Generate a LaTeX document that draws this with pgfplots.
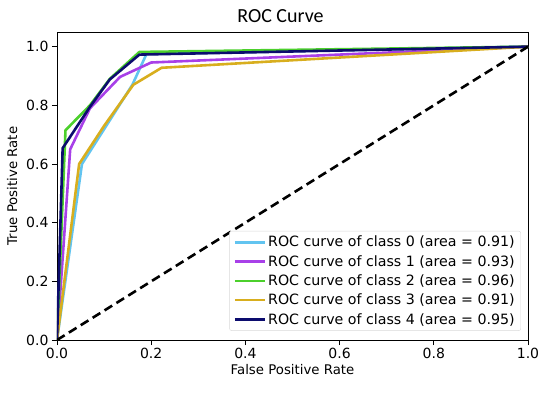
\documentclass[border=0pt]{standalone}
\usepackage{pgfplots}
\pgfplotsset{compat=1.18}
\usepackage{fontspec}
\setmainfont{DejaVu Sans}
\newfontfamily\titlefont{Carlito}
\usetikzlibrary{calc}

\definecolor{cls0}{HTML}{62C4F0}
\definecolor{cls1}{HTML}{A840E8}
\definecolor{cls2}{HTML}{4CD02C}
\definecolor{cls3}{HTML}{D8AE1E}
\definecolor{cls4}{HTML}{0C0C6E}
\definecolor{legframe}{HTML}{D8D8D8}

\begin{document}
\begin{tikzpicture}
\begin{axis}[
    scale only axis,
    width=471pt, height=308pt,
    xmin=0, xmax=1, ymin=0, ymax=1.05,
    xtick={0,0.2,...,1.0}, ytick={0,0.2,...,1.0},
    xticklabel style={/pgf/number format/.cd, fixed, fixed zerofill, precision=1},
    yticklabel style={/pgf/number format/.cd, fixed, fixed zerofill, precision=1},
    /pgf/number format/assume math mode=true,
    tick align=outside, major tick length=5pt,
    xtick pos=bottom, ytick pos=left,
    tick style={black, line width=0.9pt},
    axis line style={line width=0.9pt},
    tick label style={font=\fontsize{14}{16}\selectfont},
    label style={font=\fontsize{13.3}{15}\selectfont},
    xlabel={False Positive Rate}, ylabel={True Positive Rate},
    title={\titlefont\fontsize{20}{22}\selectfont ROC Curve},
    title style={yshift=0pt, xshift=-12pt},
    xlabel style={yshift=2pt}, ylabel style={yshift=2pt},
    legend style={at={(rel axis cs:0.985,0.03)}, anchor=south east,
        draw=legframe, rounded corners=2pt, font=\fontsize{14.2}{16}\selectfont,
        row sep=3pt, inner sep=3pt, inner xsep=4pt},
    legend cell align=left,
    legend image code/.code={\draw[#1] (0pt,0pt) -- (30pt,0pt);},
    every axis plot/.append style={line width=2.6pt, line join=round},
]
\path (rel axis cs:0,0) coordinate (O);
\addplot[cls0] coordinates {(0,0) (0.053,0.60) (0.16,0.87) (0.19,0.975) (1,1)};
\addlegendentry{ROC curve of class 0 (area = 0.91)}
\addplot[cls1] coordinates {(0,0) (0.028,0.65) (0.07,0.79) (0.134,0.897) (0.2,0.946) (1,1)};
\addlegendentry{ROC curve of class 1 (area = 0.93)}
\addplot[cls2] coordinates {(0,0) (0.018,0.715) (0.07,0.80) (0.112,0.89) (0.175,0.982) (1,1)};
\addlegendentry{ROC curve of class 2 (area = 0.96)}
\addplot[cls3] coordinates {(0,0) (0.047,0.60) (0.1,0.73) (0.162,0.87) (0.222,0.928) (1,1)};
\addlegendentry{ROC curve of class 3 (area = 0.91)}
\addplot[cls4] coordinates {(0,0) (0.012,0.654) (0.07,0.795) (0.112,0.888) (0.175,0.973) (1,1)};
\addlegendentry{ROC curve of class 4 (area = 0.95)}
\addplot[black, line width=2.6pt, dash pattern=on 9pt off 5pt, forget plot] coordinates {(0,0) (1,1)};
\end{axis}
\pgfresetboundingbox
\path[use as bounding box] ($(O)+(-57pt,-52pt)$) rectangle ($(O)+(493pt,340pt)$);
\end{tikzpicture}
\end{document}
